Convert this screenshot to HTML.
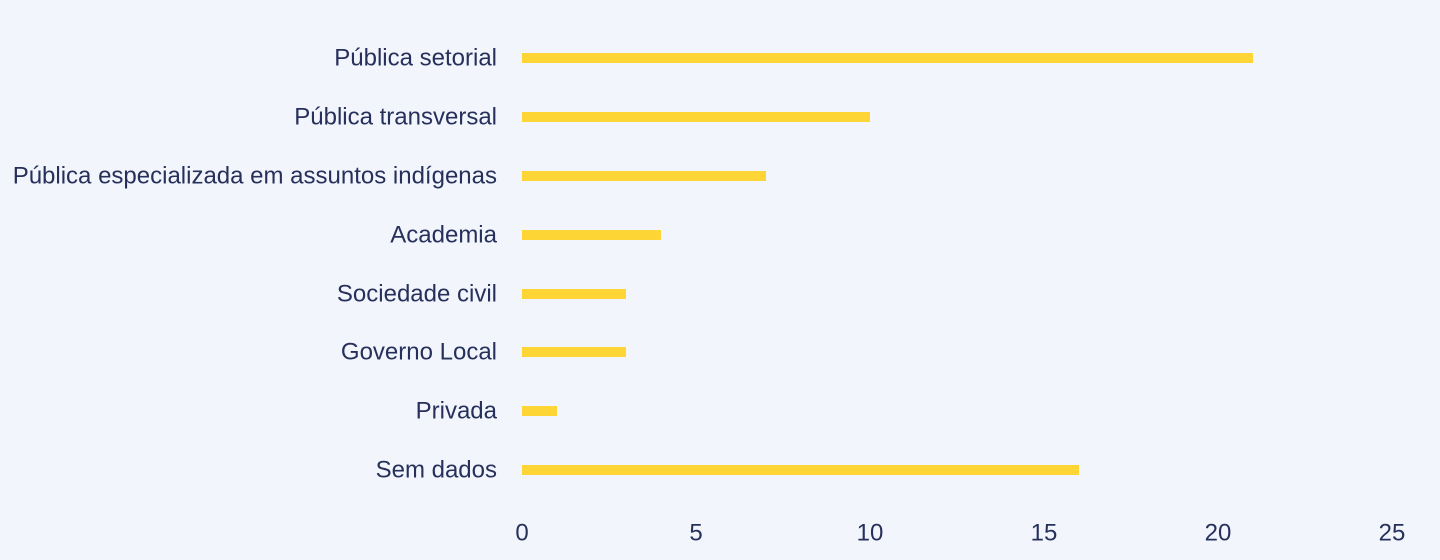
<!DOCTYPE html>
<html><head><meta charset="utf-8"><style>
html,body{margin:0;padding:0;background:#f2f6fc;}
svg{display:block}
text{font-family:"Liberation Sans",sans-serif;fill:#26305b;font-size:24px}
</style></head><body>
<svg width="1440" height="560" viewBox="0 0 1440 560">
<rect width="1440" height="560" fill="#f2f6fc"/>
<g text-anchor="end" dominant-baseline="central">
<text x="497" y="58">Pública setorial</text>
<text x="497" y="117">Pública transversal</text>
<text x="497" y="176">Pública especializada em assuntos indígenas</text>
<text x="497" y="235">Academia</text>
<text x="497" y="294">Sociedade civil</text>
<text x="497" y="352">Governo Local</text>
<text x="497" y="411">Privada</text>
<text x="497" y="470">Sem dados</text>
</g>
<g fill="#fdd535">
<rect x="522" y="53" width="731" height="10"/>
<rect x="522" y="112" width="348" height="10"/>
<rect x="522" y="171" width="244" height="10"/>
<rect x="522" y="230" width="139" height="10"/>
<rect x="522" y="289" width="104" height="10"/>
<rect x="522" y="347" width="104" height="10"/>
<rect x="522" y="406" width="35" height="10"/>
<rect x="522" y="465" width="557" height="10"/>
</g>
<g text-anchor="middle" dominant-baseline="central">
<text x="522" y="533">0</text>
<text x="696" y="533">5</text>
<text x="870" y="533">10</text>
<text x="1044" y="533">15</text>
<text x="1218" y="533">20</text>
<text x="1392" y="533">25</text>
</g>
</svg>
</body></html>
